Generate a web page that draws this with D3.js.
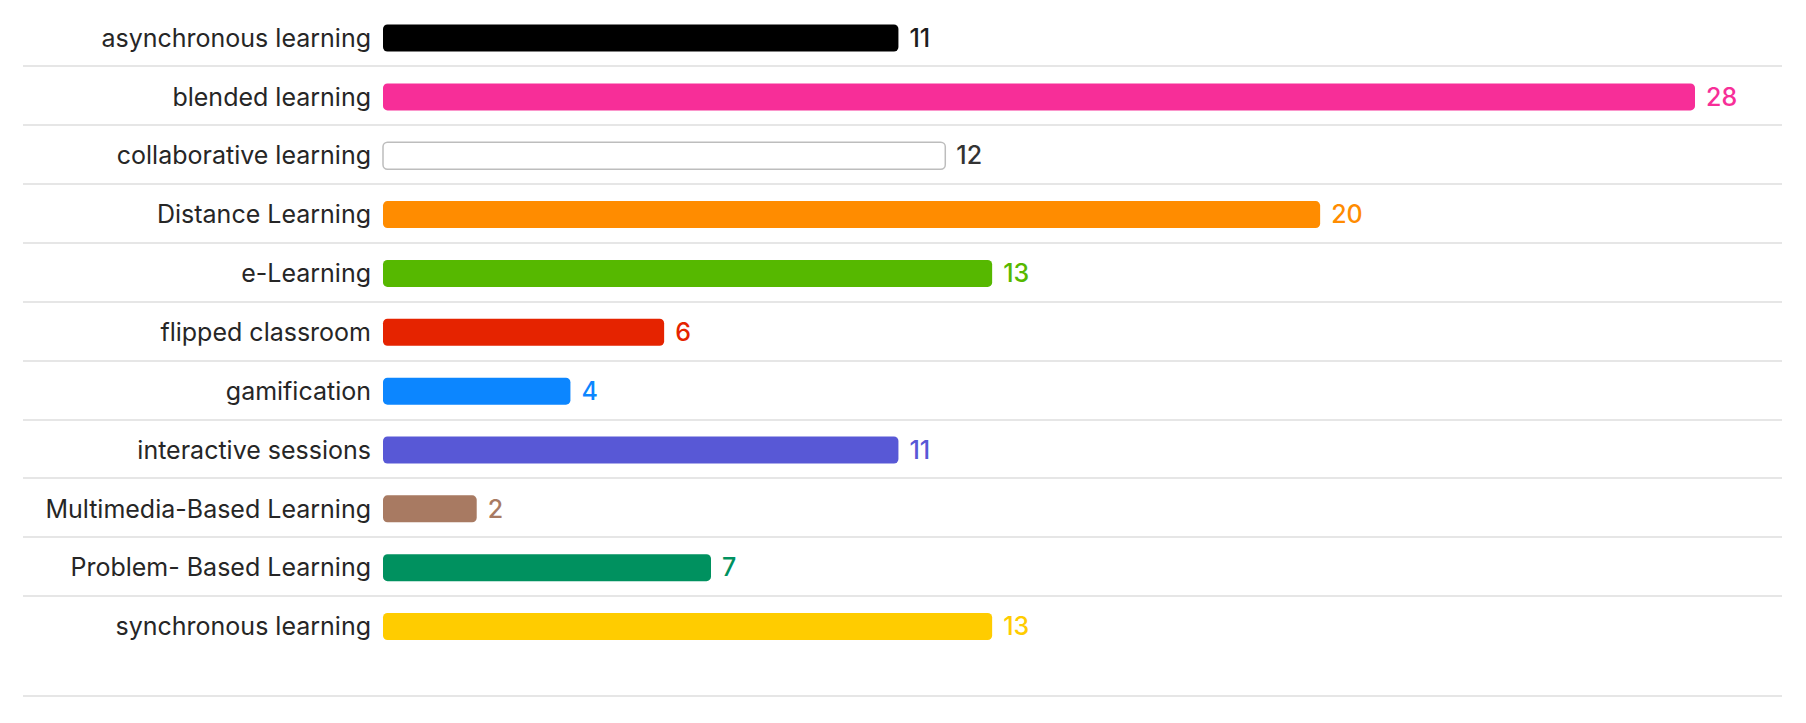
<!DOCTYPE html>
<html>
<head>
<meta charset="utf-8">
<script src="https://cdn.jsdelivr.net/npm/d3@7"></script>
<style>
  html, body { margin: 0; padding: 0; background: #fff; }
  svg { display: block; }
  text { font-family: Inter, "Noto Sans", sans-serif; }
</style>
</head>
<body>
<svg width="1806" height="723"></svg>
<script>
// categories, top to bottom
var categories = ["asynchronous learning", "blended learning", "collaborative learning",
  "Distance Learning", "e-Learning", "flipped classroom", "gamification",
  "interactive sessions", "Multimedia-Based Learning", "Problem- Based Learning",
  "synchronous learning"];
var values = [11, 28, 12, 20, 13, 6, 4, 11, 2, 7, 13];
var barColors = ["#000000", "#f72e98", "#ffffff", "#ff8c00", "#56b800", "#e52300",
  "#0c86ff", "#5858d6", "#a87a62", "#00915f", "#ffcc00"];
var valueColors = ["#1d1d1d", "#f72e98", "#333333", "#ff8c00", "#56b800", "#e52300",
  "#0c86ff", "#5858d6", "#a87a62", "#00915f", "#ffcc00"];

var svg = d3.select("svg"),
    width = +svg.attr("width"),
    height = +svg.attr("height");

var x0 = 383, lineLeft = 23, lineRight = 1782;
var rowH = 58.85, topY = 8.6, bottomLine = 696;

var x = d3.scaleLinear()
    .domain([0, 28])
    .range([x0, 1695]);

var y = d3.scaleBand()
    .domain(categories)
    .range([topY, topY + rowH * categories.length]);

var barH = 27;

// row separators (no top line), sit a touch above the band edge
svg.append("g")
  .selectAll("line")
  .data(categories.slice(1))
  .enter().append("line")
    .attr("x1", lineLeft)
    .attr("x2", lineRight)
    .attr("y1", function(d) { return Math.round(y(d)) - 1; })
    .attr("y2", function(d) { return Math.round(y(d)) - 1; })
    .attr("stroke", "#e6e6e6")
    .attr("stroke-width", 2);

svg.append("line")
    .attr("x1", lineLeft)
    .attr("x2", lineRight)
    .attr("y1", bottomLine)
    .attr("y2", bottomLine)
    .attr("stroke", "#e6e6e6")
    .attr("stroke-width", 2);

var rows = svg.append("g")
  .selectAll("g")
  .data(categories)
  .enter().append("g")
    .attr("transform", function(d) { return "translate(0," + (y(d) + y.bandwidth() / 2) + ")"; });

// category labels
rows.append("text")
    .attr("x", 371)
    .attr("dy", "0.35em")
    .attr("text-anchor", "end")
    .attr("font-size", 25)
    .attr("fill", "#262626")
    .text(function(d) { return d; });

// bars
rows.append("rect")
    .attr("x", x(0))
    .attr("y", -barH / 2)
    .attr("height", barH)
    .attr("width", function(d, i) { return x(values[i]) - x(0); })
    .attr("rx", 4.5)
    .attr("fill", function(d, i) { return barColors[i]; })
    .attr("stroke", function(d, i) { return barColors[i] === "#ffffff" ? "#bdbdbd" : "none"; })
    .attr("stroke-width", 1.5);

// value labels
rows.append("text")
    .attr("x", function(d, i) { return x(values[i]) + 11; })
    .attr("dy", "0.35em")
    .attr("font-size", 25)
    .attr("font-weight", 500)
    .attr("fill", function(d, i) { return valueColors[i]; })
    .text(function(d, i) { return values[i]; });
</script>
</body>
</html>
